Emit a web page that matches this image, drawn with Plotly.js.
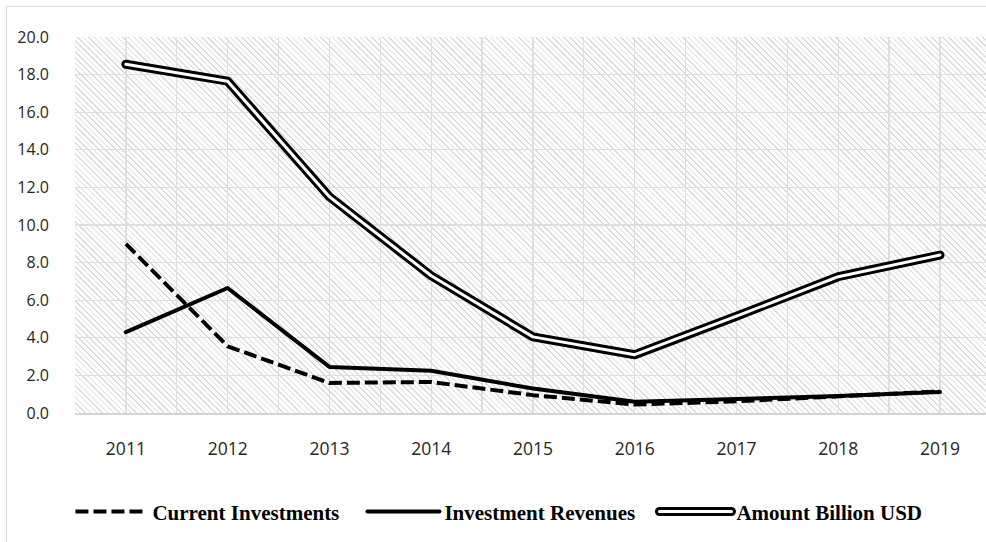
<!DOCTYPE html>
<html>
<head>
<meta charset="utf-8">
<script src="https://cdn.plot.ly/plotly-3.0.1.min.js"></script>
<style>
  html, body { margin:0; padding:0; background:#fff; width:986px; height:542px; overflow:hidden; }
  #frame { position:absolute; left:6px; top:6px; width:1100px; height:700px;
           border-left:1.5px solid #d9d9d9; border-top:1.5px solid #d9d9d9; }
  #bg { position:absolute; left:75px; top:37px; width:911px; height:376px;
        background: repeating-linear-gradient(45deg, #ffffff 0px, #ffffff 2.9px, #dcdcdc 2.9px, #dcdcdc 4px); }
  #chart { position:absolute; left:0; top:0; width:986px; height:542px; }
  path.js-line { stroke-linejoin: round; }
</style>
</head>
<body>
<div id="frame"></div>
<div id="bg"></div>
<div id="chart"></div>
<script>
const years = [2011, 2012, 2013, 2014, 2015, 2016, 2017, 2018, 2019];
const currentInvestments = [9.0, 3.55, 1.6, 1.65, 0.95, 0.45, 0.62, 0.9, 1.15];
const investmentRevenues = [4.3, 6.65, 2.45, 2.25, 1.3, 0.6, 0.75, 0.9, 1.12];
const amountBillionUSD = [18.55, 17.65, 11.5, 7.3, 4.05, 3.1, 5.15, 7.25, 8.4];
const seriesNames = ['Current Investments', 'Investment Revenues', 'Amount Billion USD'];

const traces = [
  { x: years, y: currentInvestments, name: seriesNames[0], type: 'scatter', mode: 'lines',
    line: { color: '#000', width: 4, dash: '13px,5px' } },
  { x: years, y: investmentRevenues, name: seriesNames[1], type: 'scatter', mode: 'lines',
    line: { color: '#000', width: 4 } },
  { x: years, y: amountBillionUSD, name: seriesNames[2], type: 'scatter', mode: 'lines',
    line: { color: '#000', width: 9 } },
  { x: years, y: amountBillionUSD, name: seriesNames[2], type: 'scatter', mode: 'lines',
    showlegend: false, hoverinfo: 'skip', line: { color: '#fff', width: 3 } }
];

const layout = {
  width: 986, height: 542,
  margin: { l: 75, r: 0, t: 37, b: 129, autoexpand: false },
  paper_bgcolor: 'rgba(0,0,0,0)',
  plot_bgcolor: 'rgba(0,0,0,0)',
  showlegend: true,
  xaxis: {
    range: [2010.5, 2019.452], tick0: 2011, dtick: 1, tickformat: 'd',
    showgrid: true, gridcolor: '#dedede', gridwidth: 1.3,
    minor: { tick0: 2010.5, dtick: 1, showgrid: true, gridcolor: '#dedede', gridwidth: 1.3 },
    showline: true, linecolor: '#d4d4d4', linewidth: 2,
    zeroline: false, ticks: '', ticklabelstandoff: 19,
    tickfont: { family: 'Open Sans', size: 17.5, color: '#262626' }
  },
  yaxis: {
    range: [0, 20], dtick: 2, tickformat: '.1f',
    showgrid: true, gridcolor: '#dedede', gridwidth: 1.3,
    zeroline: false, showline: false, ticks: '', ticklabelstandoff: 25,
    tickfont: { family: 'Open Sans', size: 16, color: '#262626' }
  },
  legend: {
    orientation: 'h', x: -0.005, xanchor: 'left', y: -0.263, yanchor: 'middle',
    itemwidth: 72, entrywidth: 205, entrywidthmode: 'pixels',
    traceorder: 'normal', bgcolor: 'rgba(0,0,0,0)',
    font: { family: 'Liberation Serif', size: 21, color: '#000', weight: 'bold' }
  }
};

Plotly.newPlot('chart', traces, layout, { displayModeBar: false, staticPlot: true }).then(function (gd) {
  const tr = gd.querySelectorAll('.scatterlayer .trace');
  [1, 2, 3].forEach(function (i) {
    if (tr[i]) tr[i].querySelectorAll('path.js-line').forEach(function (p) { p.style.strokeLinecap = 'round'; });
  });
  const leg = gd.querySelectorAll('.legend .traces');
  leg.forEach(function (g, i) {
    const p = g.querySelector('.legendlines path');
    if (!p) return;
    if (i > 0) p.style.strokeLinecap = 'round';
    if (i === 2) {
      const c = p.cloneNode(true);
      c.style.stroke = '#fff';
      c.style.strokeWidth = '3px';
      c.style.strokeLinecap = 'round';
      p.parentNode.appendChild(c);
    }
  });
});
</script>
</body>
</html>
